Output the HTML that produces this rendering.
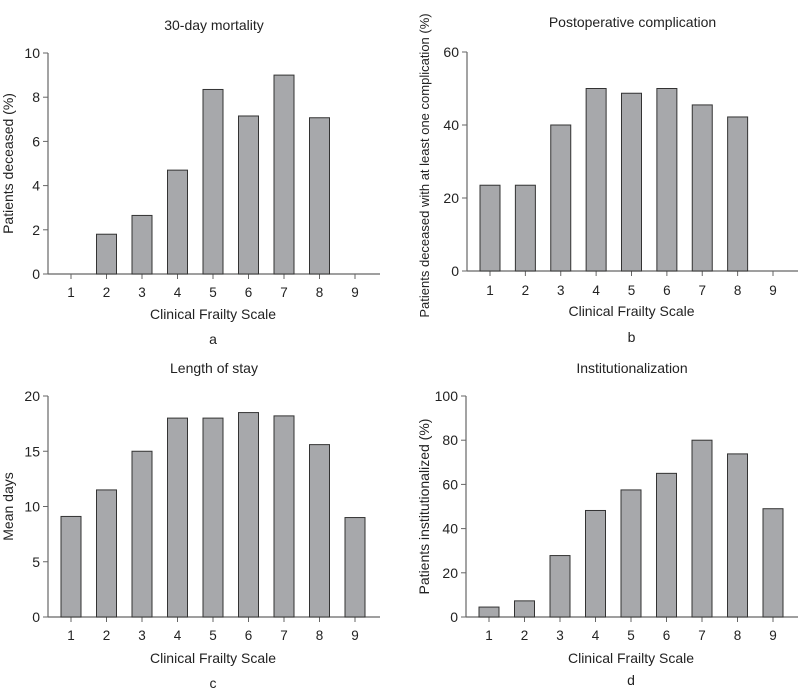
<!DOCTYPE html>
<html><head><meta charset="utf-8"><style>
body{margin:0;background:#fff;}
svg{display:block;font-family:"Liberation Sans",sans-serif;}
text{fill:#222;}
</style></head><body>
<svg id="chart" width="798" height="689" viewBox="0 0 798 689"></svg>
<script>
const categories=[1,2,3,4,5,6,7,8,9];
const mortality=[0,1.8,2.65,4.7,8.35,7.15,9,7.07,0];
const complication=[23.5,23.5,40,50,48.7,50,45.5,42.2,0];
const lengthOfStay=[9.1,11.5,15,18,18,18.5,18.2,15.6,9];
const institution=[4.5,7.3,27.8,48.2,57.5,65,80,73.8,49];
const ticksA=[0,2,4,6,8,10];
const ticksB=[0,20,40,60];
const ticksC=[0,5,10,15,20];
const ticksD=[0,20,40,60,80,100];
const NS='http://www.w3.org/2000/svg';
const svg=document.getElementById('chart');
function el(t,a,p){const e=document.createElementNS(NS,t);for(const k in a)e.setAttribute(k,a[k]);(p||svg).appendChild(e);return e;}
function panel(o){
  const g=el('g',{});
  
  
  const ymax=o.ticks[o.ticks.length-1];
  const y=v=>o.bottom-(v/ymax)*(o.bottom-o.top);
  const x=i=>o.x1+i*(o.x9-o.x1)/8;
  const t=el('text',{x:(o.axisX+o.right)/2,y:o.titleY,'font-size':14,'text-anchor':'middle'},g);t.textContent=o.title;
  
  el('line',{x1:o.axisX,y1:o.top,x2:o.axisX,y2:o.bottom,stroke:'#666','stroke-width':1.2},g);
  el('line',{x1:o.axisX,y1:o.bottom,x2:o.right,y2:o.bottom,stroke:'#666','stroke-width':1.2},g);
  o.ticks.forEach(v=>{
    el('line',{x1:o.axisX-5,y1:y(v),x2:o.axisX,y2:y(v),stroke:'#666'},g);
    const tl=el('text',{x:o.axisX-8,y:y(v)+5,'font-size':14,'text-anchor':'end'},g);tl.textContent=v;
    
  });
  categories.forEach((c,i)=>{
    el('line',{x1:x(i),y1:o.bottom,x2:x(i),y2:o.bottom+5,stroke:'#666'},g);
    const tl=el('text',{x:x(i),y:o.tickY,'font-size':13.5,'text-anchor':'middle'},g);tl.textContent=c;
    
    const v=o.data[i];
    if(v>0){
      const b=el('rect',{x:x(i)-10,y:y(v),width:20,height:o.bottom-y(v),fill:'#a7a8ab',stroke:'#333','stroke-width':1},g);
      
    }
  });
  const xt=el('text',{x:(o.x1+o.x9)/2,y:o.xTitleY,'font-size':14,'text-anchor':'middle'},g);xt.textContent='Clinical Frailty Scale';
  
  const cy=(o.top+o.bottom)/2+(o.yShift||0);
  const yt=el('text',{x:o.yTitleX,y:cy,'font-size':o.yFont||14,'text-anchor':'middle',transform:`rotate(-90 ${o.yTitleX} ${cy})`},g);yt.textContent=o.yTitle;
  
  const lt=el('text',{x:(o.x1+o.x9)/2,y:o.letterY,'font-size':14,'text-anchor':'middle'},g);lt.textContent=o.letter;
  
}
panel({name:'panel-a-mortality',title:'30-day mortality',titleY:30,data:mortality,ticks:ticksA,axisX:48,right:380,top:53,bottom:274,x1:71,x9:355,tickY:297,xTitleY:319,yTitle:'Patients deceased (%)',yTitleX:13,letter:'a',letterY:344});
panel({name:'panel-b-complication',title:'Postoperative complication',titleY:27,data:complication,ticks:ticksB,axisX:467,right:798,top:52,bottom:271,x1:490,x9:773,tickY:295,xTitleY:316,yTitle:'Patients deceased with at least one complication (%)',yTitleX:429,yFont:13,yShift:4,letter:'b',letterY:342});
panel({name:'panel-c-length-of-stay',title:'Length of stay',titleY:373,data:lengthOfStay,ticks:ticksC,axisX:48,right:380,top:396,bottom:617,x1:71,x9:355,tickY:640,xTitleY:663,yTitle:'Mean days',yTitleX:13,letter:'c',letterY:688});
panel({name:'panel-d-institutionalization',title:'Institutionalization',titleY:373,data:institution,ticks:ticksD,axisX:466,right:798,top:396,bottom:617,x1:489,x9:773,tickY:640,xTitleY:663,yTitle:'Patients institutionalized (%)',yTitleX:429,letter:'d',letterY:685});
</script>
</body></html>
